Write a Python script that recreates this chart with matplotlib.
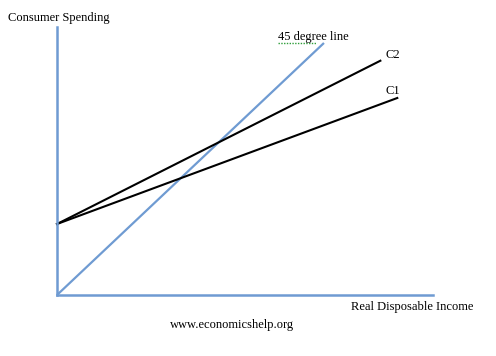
import matplotlib
matplotlib.use('Agg')
import matplotlib.pyplot as plt
from matplotlib.lines import Line2D

# income / consumption values (abstract units)
line45_income = [0, 71]
line45_spending = [0, 71]
c2_income = [0, 86]
c2_spending = [20, 66]
c1_income = [0, 90.5]
c1_spending = [20, 55.5]

axis_blue = '#6f9bd2'

W, H = 496, 356
fig = plt.figure(figsize=(W / 100, H / 100), dpi=100)
plt.rcParams['font.family'] = ['Liberation Serif', 'DejaVu Serif']

# axes origin at (57, 295) px, x axis 376 px long, y axis 268 px tall
ax = fig.add_axes([57 / W, (H - 295) / H, 376 / W, 268 / H])
ax.set_xlim(0, 100)
ax.set_ylim(0, 75.5)
ax.patch.set_alpha(0)

for side in ['top', 'right']:
    ax.spines[side].set_visible(False)
for side in ['left', 'bottom']:
    ax.spines[side].set_color(axis_blue)
    ax.spines[side].set_linewidth(1.8)
ax.set_xticks([])
ax.set_yticks([])

ax.plot(line45_income, line45_spending, color=axis_blue, lw=1.6, solid_capstyle='butt', clip_on=False)
ax.plot(c2_income, c2_spending, color='black', lw=1.5, clip_on=False)
ax.plot(c1_income, c1_spending, color='black', lw=1.5, clip_on=False)

fs = 9
fig.text(8 / W, 1 - 18 / H, 'Consumer Spending', fontsize=fs, va='center', ha='left')
fig.text(278 / W, 1 - 37 / H, '45 degree line', fontsize=fs, va='center', ha='left')
fig.text(386 / W, 1 - 55 / H, 'C2', fontsize=fs, va='center', ha='left')
fig.text(386 / W, 1 - 91 / H, 'C1', fontsize=fs, va='center', ha='left')
fig.text(351 / W, 1 - 307 / H, 'Real Disposable Income', fontsize=fs, va='center', ha='left')
fig.text(170 / W, 1 - 325 / H, 'www.economicshelp.org', fontsize=fs, va='center', ha='left')

# spell-check squiggle under "45 degree"
fig.add_artist(Line2D([278 / W, 316 / W], [1 - 43 / H, 1 - 43 / H], color='#2e9e3a',
                      lw=1.0, ls=(0, (1, 1)), transform=fig.transFigure))

fig.savefig('out.png', dpi=100)
